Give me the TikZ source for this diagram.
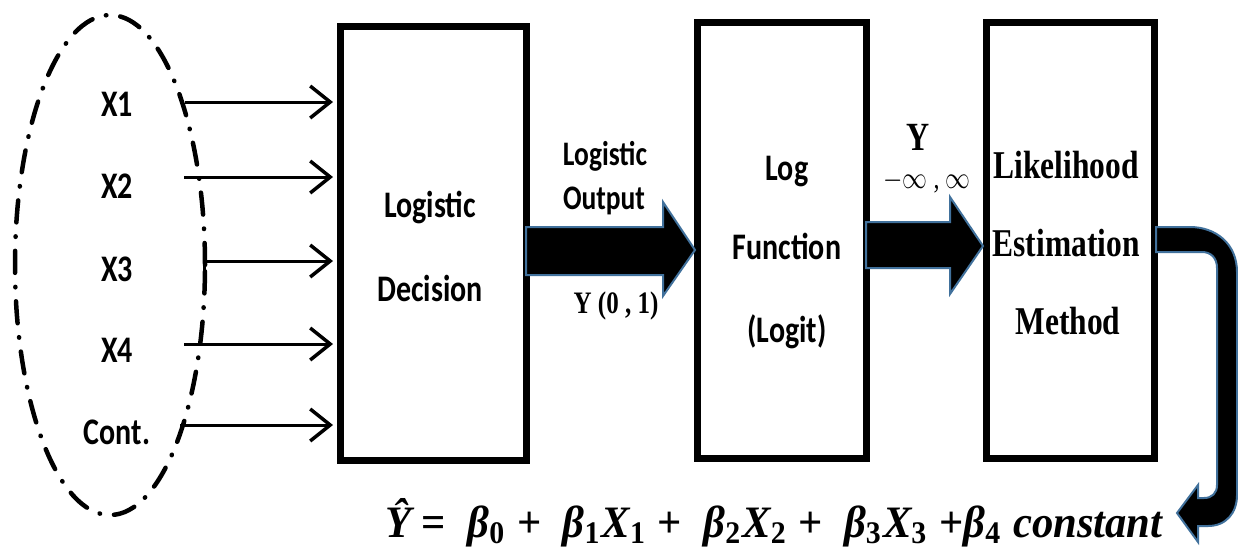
\documentclass[tikz,border=0pt]{standalone}
\usepackage{fontspec}
\setmainfont{Liberation Serif}
\newfontfamily\carl{Carlito}
\usepackage{graphicx}
\usetikzlibrary{arrows.meta,shapes.geometric,calc}
\definecolor{outl}{RGB}{65,113,156}
\newcommand{\st}[1]{\scalebox{1}[1.25]{#1}}
\newcommand{\sbs}[1]{\textsubscript{\upshape #1}}
\begin{document}
\begin{tikzpicture}[x=1pt,y=-1pt,
  box/.style={draw, line width=7pt, inner sep=0pt},
  clbl/.style={font={\carl\bfseries\fontsize{30pt}{36pt}\selectfont}, anchor=base, inner sep=0pt},
  mlbl/.style={font={\carl\bfseries\fontsize{27.5pt}{33pt}\selectfont}, anchor=base, inner sep=0pt},
  tlbl/.style={font={\bfseries\fontsize{31.5pt}{38pt}\selectfont}, anchor=base, inner sep=0pt},
  barb/.tip={Straight Barb[length=20pt,width=32pt,line width=3.5pt]},
  inarrow/.style={line width=3pt, -barb, shorten >=4pt},
  fat/.style={fill=black, draw=outl, line width=2pt, line join=miter},
]
\useasboundingbox (0,0) rectangle (1238,550);

% ellipse of inputs
\node[ellipse, draw, line width=4.5pt, line cap=round,
      dash pattern=on 22pt off 14pt on 0.5pt off 14pt,
      minimum width=190pt, minimum height=500pt, inner sep=0pt] (ell) at (110,265) {};

% input labels
\node[clbl] (x1) at (117,116) {\st{X1}};
\node[clbl] (x2) at (117,198) {\st{X2}};
\node[clbl] (x3) at (117,281) {\st{X3}};
\node[clbl] (x4) at (117,362) {\st{X4}};
\node[clbl] (xc) at (117,444) {\st{Cont.}};

% boxes
\node[box, minimum width=186pt, minimum height=434pt] (b1) at (433.5,243.5) {};
\node[box, minimum width=169pt, minimum height=436pt] (b2) at (782,240.5) {};
\node[box, minimum width=168pt, minimum height=436pt] (b3) at (1070.5,240.5) {};

% box texts
\node[clbl] (t11) at (430,217) {\st{Logistic}};
\node[clbl] (t12) at (430,301) {\st{Decision}};
\node[clbl] (t21) at (787,180) {\st{Log}};
\node[clbl] (t22) at (787,259) {\st{Function}};
\node[clbl] (t23) at (787,342) {\st{(Logit)}};
\node[tlbl] (t31) at (1066,178) {\st{Likelihood}};
\node[tlbl] (t32) at (1066,256) {\st{Estimation}};
\node[tlbl] (t33) at (1068,334) {\st{Method}};

% input arrows
\coordinate (s1) at (185,102);
\coordinate (s2) at (184,177);
\coordinate (s3) at (203,261);
\coordinate (s4) at (184,344);
\coordinate (s5) at (180,425);
\draw[inarrow] (s1) -- (s1 -| b1.west);
\draw[inarrow] (s2) -- (s2 -| b1.west);
\draw[inarrow, {Bar[width=18pt,line width=3pt]}-barb] (s3) -- (s3 -| b1.west);
\draw[inarrow] (s4) -- (s4 -| b1.west);
\draw[inarrow] (s5) -- (s5 -| b1.west);

% fat arrow 1
\draw[fat] (526,227) -- (663,227) -- (663,202) -- (695,250) -- (663,296) -- (663,275) -- (526,275) -- cycle;
\node[mlbl] (lo1) at (605,165) {\st{Logistic}};
\node[mlbl] (lo2) at (604,209) {\st{Output}};
\node[tlbl, font={\bfseries\fontsize{25pt}{30pt}\selectfont}] (y01) at (616,313) {\st{Y (0 , 1)}};

% fat arrow 2
\draw[fat] (866,222) -- (950,222) -- (950,197) -- (983,246) -- (950,294) -- (950,268) -- (866,268) -- cycle;
\node[tlbl, font={\bfseries\fontsize{32pt}{38pt}\selectfont}] (yy) at (918,150) {\st{Y}};
\node[anchor=base, inner sep=0pt, font={\fontsize{24pt}{29pt}\selectfont}] (inf) at (927,188) {\st{$-\infty$ , $\infty$}};

% U-turn arrow
\draw[fat] (1156,227) -- (1190,227) .. controls (1216,227) and (1237,244) .. (1237,272)
  -- (1237,495) .. controls (1237,513) and (1226,526) .. (1208,526)
  -- (1198,526) -- (1198,542) -- (1177,513) -- (1198,485) -- (1198,498)
  -- (1204,498) .. controls (1212,498) and (1217,493) .. (1217,485)
  -- (1217,268) .. controls (1217,258) and (1211,252) .. (1202,252)
  -- (1156,252) -- cycle;

% equation
\node[anchor=base west, inner sep=0pt] (eq) at (385,537)
  {\resizebox{777pt}{39pt}{\bfseries\itshape Ŷ {\upshape=}\ \ β\sbs{0} {\upshape+}\ \ β\sbs{1}X\sbs{1} {\upshape+}\ \ β\sbs{2}X\sbs{2} {\upshape+}\ \ β\sbs{3}X\sbs{3} {\upshape+}β\sbs{4} constant}};
\end{tikzpicture}
\end{document}
